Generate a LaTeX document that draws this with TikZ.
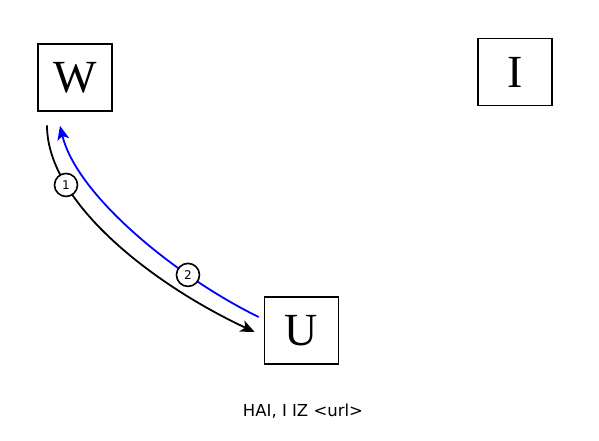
\documentclass[tikz,border=0pt]{standalone}
\usepackage{fontspec}
\setmainfont{Liberation Serif}
\newfontfamily\djv{DejaVu Sans}
\usetikzlibrary{arrows.meta,calc}
\begin{document}
\begin{tikzpicture}[x=1pt,y=-1pt,
  box/.style={draw,line width=1.7pt,minimum width=74pt,minimum height=67pt,inner sep=0pt,font=\fontsize{46}{46}\selectfont},
  lbl/.style={draw=black,text=black,circle,fill=white,line width=1.6pt,minimum size=23pt,inner sep=0pt,font=\djv\fontsize{12}{12}\selectfont},
  conn/.style={line width=1.8pt,-{Stealth[length=14pt,width=12pt,inset=3.5pt]}}]
\useasboundingbox (0,0) rectangle (599,440);
\node[box] (W) at (75,77.5) {W};
\node[box] (I) at (515,72) {I};
\node[box] (U) at (301.5,330.5) {U};
\node[font=\djv\fontsize{16.5}{16.5}\selectfont] (cap) at (303,411) {HAI, I IZ <url>};
\coordinate (s1) at ($(W.south)+(-28,13.5)$);
\coordinate (e1) at ($(U.west)+(-9,1.5)$);
\coordinate (s2) at ($(U.west)+(-5,-13.5)$);
\coordinate (e2) at ($(W.south)+(-15,14)$);
\draw[conn] (s1) .. controls (47,203) and (154,285) .. (e1) node[lbl,pos=0.255] (l1) {1};
\draw[conn,blue] (s2) .. controls (177,277) and (77,196) .. (e2) node[lbl,pos=0.28] (l2) {2};
\end{tikzpicture}
\end{document}
